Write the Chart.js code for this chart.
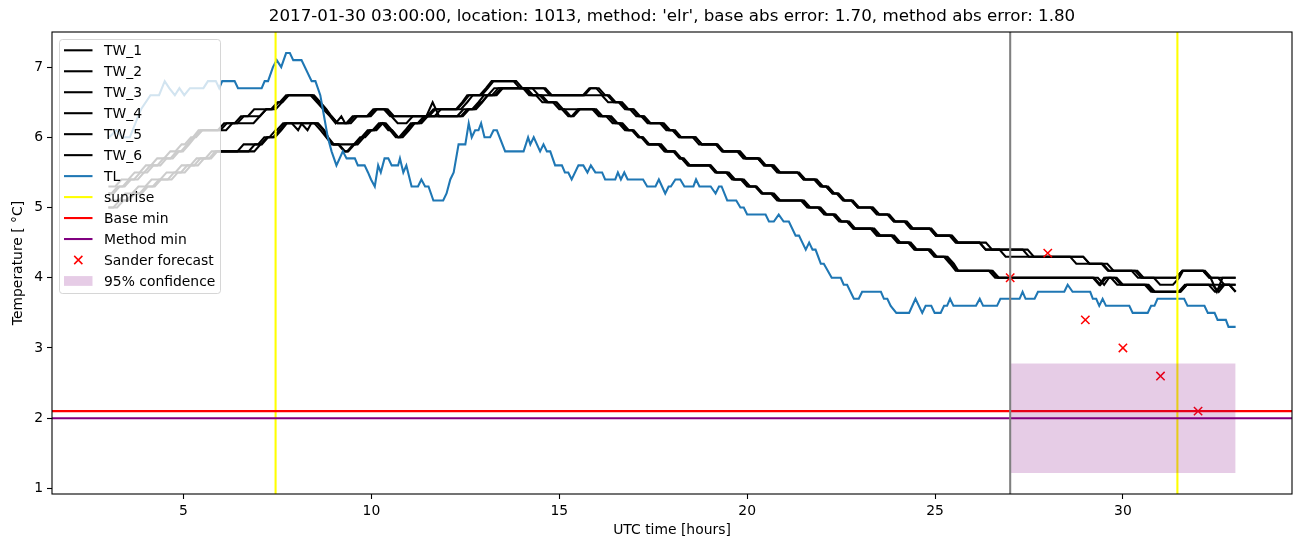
<!DOCTYPE html>
<html>
<head>
<meta charset="utf-8">
<script src="https://cdn.jsdelivr.net/npm/chart.js@4.4.1/dist/chart.umd.min.js"></script>
<style>
    html, body { margin: 0; padding: 0; background: #fff; }
    #chartTemp { display: block; }
</style>
</head>
<body>
<canvas id="chartTemp" width="1302" height="547"></canvas>
<script>
const xTicks = [5, 10, 15, 20, 25, 30];
const yTicks = [1, 2, 3, 4, 5, 6, 7];
const xRange = [1.5, 34.5];
const yRange = [0.92, 7.5];

// TL corners [hour, temp]
const tl = [[3.02,6.0],[3.22,6.1],[3.37,6.0],[3.57,6.0],[3.87,6.4],[4.12,6.6],[4.35,6.6],[4.5,6.8],[4.62,6.7],[4.77,6.6],[4.89,6.7],[5.02,6.6],[5.17,6.7],[5.53,6.7],[5.65,6.8],[5.86,6.8],[5.95,6.7],[6.03,6.8],[6.36,6.8],[6.45,6.7],[7.08,6.7],[7.16,6.8],[7.25,6.8],[7.38,7.0],[7.48,7.1],[7.6,7.0],[7.73,7.2],[7.83,7.2],[7.92,7.1],[8.14,7.1],[8.41,6.8],[8.51,6.8],[8.64,6.6],[8.74,6.3],[8.84,6.0],[8.94,5.8],[9.07,5.6],[9.24,5.8],[9.34,5.7],[9.56,5.7],[9.64,5.6],[9.82,5.6],[9.91,5.5],[9.99,5.4],[10.09,5.3],[10.18,5.6],[10.25,5.5],[10.35,5.7],[10.45,5.7],[10.54,5.6],[10.71,5.6],[10.76,5.7],[10.85,5.5],[10.93,5.6],[11.07,5.3],[11.24,5.3],[11.33,5.4],[11.43,5.3],[11.52,5.3],[11.65,5.1],[11.91,5.1],[12.0,5.2],[12.1,5.4],[12.19,5.5],[12.32,5.9],[12.5,5.9],[12.59,6.2],[12.67,6.0],[12.76,6.1],[12.85,6.1],[12.92,6.2],[13.01,6.0],[13.16,6.0],[13.25,6.1],[13.34,6.1],[13.56,5.8],[14.05,5.8],[14.17,6.0],[14.23,5.9],[14.32,6.0],[14.49,5.8],[14.58,5.9],[14.67,5.8],[14.76,5.8],[14.89,5.6],[15.07,5.6],[15.15,5.5],[15.24,5.5],[15.33,5.4],[15.51,5.6],[15.64,5.6],[15.75,5.5],[15.84,5.6],[15.96,5.5],[16.14,5.5],[16.22,5.4],[16.49,5.4],[16.56,5.5],[16.64,5.4],[16.73,5.5],[16.82,5.4],[17.23,5.4],[17.34,5.3],[17.56,5.3],[17.65,5.4],[17.82,5.2],[17.91,5.3],[17.97,5.3],[18.09,5.4],[18.22,5.4],[18.33,5.3],[18.57,5.3],[18.64,5.4],[18.73,5.3],[19.03,5.3],[19.16,5.2],[19.25,5.3],[19.32,5.3],[19.47,5.1],[19.71,5.1],[19.82,5.0],[19.91,5.0],[20.0,4.9],[20.49,4.9],[20.58,4.8],[20.71,4.8],[20.84,4.9],[20.97,4.8],[21.11,4.8],[21.29,4.6],[21.38,4.6],[21.47,4.5],[21.56,4.4],[21.65,4.5],[21.74,4.4],[21.82,4.4],[21.96,4.2],[22.04,4.2],[22.25,4.0],[22.49,4.0],[22.57,3.9],[22.66,3.9],[22.84,3.7],[22.97,3.7],[23.06,3.8],[23.56,3.8],[23.64,3.7],[23.73,3.7],[23.82,3.6],[23.97,3.5],[24.31,3.5],[24.48,3.7],[24.66,3.5],[24.75,3.6],[24.9,3.6],[24.99,3.5],[25.15,3.5],[25.24,3.6],[25.32,3.6],[25.4,3.7],[25.49,3.6],[26.09,3.6],[26.19,3.7],[26.28,3.6],[26.65,3.6],[26.74,3.7],[27.25,3.7],[27.33,3.8],[27.41,3.7],[27.65,3.7],[27.74,3.8],[28.44,3.8],[28.53,3.9],[28.66,3.8],[29.13,3.8],[29.2,3.7],[29.29,3.7],[29.37,3.6],[29.46,3.7],[29.55,3.6],[30.17,3.6],[30.26,3.5],[30.66,3.5],[30.75,3.6],[30.84,3.6],[30.92,3.7],[31.63,3.7],[31.72,3.6],[32.17,3.6],[32.26,3.5],[32.44,3.5],[32.52,3.4],[32.74,3.4],[32.81,3.3],[33.0,3.3]];

// TW steps [hour the new level is reached, temp]
const tw1 = [[3.0,5.2],[3.25,5.3],[3.55,5.4],[3.85,5.5],[4.12,5.6],[4.47,5.7],[4.82,5.8],[5.1,5.9],[5.25,6.0],[5.4,6.1],[6.08,6.2],[6.53,6.3],[6.88,6.4],[7.53,6.5],[7.73,6.6],[8.64,6.5],[8.8,6.4],[8.94,6.3],[9.1,6.2],[9.5,6.3],[10.05,6.4],[10.6,6.3],[11.7,6.4],[12.42,6.5],[12.55,6.6],[13.05,6.7],[13.2,6.8],[14.02,6.7],[14.8,6.6],[15.84,6.7],[16.22,6.6],[16.45,6.5],[16.84,6.4],[17.12,6.3],[17.43,6.2],[17.91,6.1],[18.18,6.0],[18.79,5.9],[19.38,5.8],[19.95,5.7],[20.45,5.6],[20.84,5.5],[21.5,5.4],[21.99,5.3],[22.27,5.2],[22.58,5.1],[22.94,5.0],[23.5,4.9],[23.91,4.8],[24.39,4.7],[25.02,4.6],[25.59,4.5],[26.52,4.4],[27.63,4.3],[28.76,4.2],[29.63,4.1],[30.49,4.0],[30.99,3.9],[31.5,4.0],[31.6,4.1],[32.35,4.0],[33.0,4.0]];
const tw2 = [[3.0,5.3],[3.35,5.4],[3.7,5.5],[4.0,5.6],[4.3,5.7],[4.65,5.8],[4.95,5.9],[5.2,6.0],[5.5,6.1],[6.3,6.2],[7.03,6.3],[7.2,6.4],[7.62,6.5],[7.8,6.6],[8.55,6.5],[8.72,6.4],[8.9,6.3],[9.05,6.2],[9.2,6.3],[9.3,6.2],[9.62,6.3],[10.15,6.4],[10.5,6.3],[10.7,6.2],[11.1,6.3],[11.85,6.4],[12.55,6.5],[12.7,6.6],[13.27,6.7],[14.45,6.6],[16.3,6.5],[16.75,6.4],[17.05,6.3],[17.35,6.2],[17.85,6.1],[18.25,6.0],[18.72,5.9],[19.33,5.8],[19.9,5.7],[20.5,5.6],[20.8,5.5],[21.55,5.4],[21.95,5.3],[22.32,5.2],[22.55,5.1],[22.98,5.0],[23.45,4.9],[23.95,4.8],[24.35,4.7],[25.07,4.6],[25.55,4.5],[26.35,4.4],[26.88,4.3],[29.11,4.2],[29.75,4.1],[30.55,4.0],[31.58,4.1],[32.3,4.0],[32.7,3.9],[33.0,3.9]];
const tw3 = [[3.0,5.2],[3.3,5.3],[3.6,5.4],[3.95,5.5],[4.2,5.6],[4.55,5.7],[4.88,5.8],[5.15,5.9],[5.3,6.0],[5.45,6.1],[6.15,6.2],[6.6,6.3],[7.2,6.4],[7.5,6.5],[7.78,6.6],[8.6,6.5],[8.78,6.4],[8.92,6.3],[9.1,6.2],[9.55,6.3],[10.1,6.4],[10.55,6.3],[11.65,6.4],[12.45,6.5],[12.6,6.6],[13.1,6.7],[13.25,6.8],[13.95,6.7],[14.75,6.6],[15.8,6.7],[16.15,6.6],[16.5,6.5],[16.8,6.4],[17.15,6.3],[17.4,6.2],[17.95,6.1],[18.2,6.0],[18.8,5.9],[19.35,5.8],[19.98,5.7],[20.45,5.6],[20.88,5.5],[21.5,5.4],[22.02,5.3],[22.27,5.2],[22.6,5.1],[22.94,5.0],[23.52,4.9],[23.9,4.8],[24.42,4.7],[25.02,4.6],[25.62,4.5],[26.35,4.4],[27.5,4.3],[29.11,4.2],[29.6,4.1],[30.4,4.0],[31.58,4.1],[32.3,4.0],[32.5,3.8],[32.65,4.0],[33.0,4.0]];
const tw4 = [[3.0,5.0],[3.4,5.1],[3.7,5.2],[4.05,5.3],[4.4,5.4],[4.85,5.5],[5.2,5.6],[5.55,5.7],[5.9,5.8],[6.9,5.9],[7.22,6.0],[7.55,6.1],[7.7,6.2],[8.72,6.1],[8.82,6.0],[8.98,5.9],[9.28,5.8],[9.52,5.9],[9.74,6.0],[9.95,6.1],[10.25,6.2],[10.55,6.1],[10.7,6.0],[10.95,6.1],[11.1,6.2],[11.45,6.3],[11.63,6.5],[11.8,6.3],[12.6,6.4],[12.95,6.5],[13.1,6.6],[13.45,6.7],[14.25,6.6],[14.65,6.5],[15.07,6.4],[15.24,6.3],[15.5,6.4],[16.1,6.3],[16.49,6.2],[16.8,6.1],[17.12,6.0],[17.38,5.9],[17.83,5.8],[18.22,5.7],[18.44,5.6],[19.18,5.5],[19.64,5.4],[20.04,5.3],[20.4,5.2],[20.84,5.1],[21.64,5.0],[22.09,4.9],[22.49,4.8],[22.84,4.7],[23.5,4.6],[24.03,4.5],[24.48,4.4],[25.02,4.3],[25.45,4.2],[25.6,4.1],[26.66,4.0],[29.5,3.9],[29.63,4.0],[29.85,3.9],[30.8,3.8],[31.7,3.9],[32.55,3.8],[32.7,3.9],[33.0,3.8]];
const tw5 = [[3.0,5.1],[3.45,5.2],[3.8,5.3],[4.15,5.4],[4.55,5.5],[4.95,5.6],[5.35,5.7],[5.75,5.8],[6.6,5.9],[7.15,6.0],[7.45,6.1],[7.65,6.2],[8.05,6.1],[8.15,6.2],[8.65,6.1],[8.8,6.0],[8.95,5.9],[9.7,6.0],[9.9,6.1],[10.2,6.2],[10.5,6.1],[10.65,6.0],[10.9,6.1],[11.05,6.2],[11.4,6.3],[12.45,6.4],[12.85,6.5],[13.0,6.6],[13.38,6.7],[14.2,6.6],[14.55,6.5],[15.0,6.4],[16.05,6.3],[16.42,6.2],[16.75,6.1],[17.1,6.0],[17.35,5.9],[17.8,5.8],[18.2,5.7],[18.42,5.6],[19.15,5.5],[19.6,5.4],[20.0,5.3],[20.38,5.2],[20.8,5.1],[21.6,5.0],[22.05,4.9],[22.45,4.8],[22.82,4.7],[23.45,4.6],[24.0,4.5],[24.45,4.4],[24.98,4.3],[25.4,4.2],[25.55,4.1],[26.6,4.0],[29.37,3.9],[29.5,4.0],[29.95,3.9],[30.75,3.8],[31.65,3.9],[33.0,3.9]];
const tw6 = [[3.0,5.0],[3.3,5.1],[3.65,5.2],[4.0,5.3],[4.35,5.4],[4.75,5.5],[5.1,5.6],[5.45,5.7],[5.85,5.8],[7.05,5.9],[7.25,6.0],[7.6,6.1],[7.75,6.2],[8.3,6.1],[8.4,6.2],[8.75,6.1],[8.85,6.0],[9.0,5.9],[9.3,5.8],[9.55,5.9],[9.8,6.0],[10.0,6.1],[10.3,6.2],[10.45,6.1],[10.72,6.0],[11.0,6.1],[11.15,6.2],[11.5,6.3],[12.55,6.4],[12.9,6.5],[13.1,6.6],[13.5,6.7],[14.3,6.6],[14.7,6.5],[15.1,6.4],[15.3,6.3],[15.55,6.4],[16.15,6.3],[16.55,6.2],[16.85,6.1],[17.15,6.0],[17.4,5.9],[17.88,5.8],[18.25,5.7],[18.48,5.6],[19.2,5.5],[19.68,5.4],[20.08,5.3],[20.42,5.2],[20.88,5.1],[21.68,5.0],[22.12,4.9],[22.52,4.8],[22.88,4.7],[23.55,4.6],[24.08,4.5],[24.52,4.4],[25.05,4.3],[25.5,4.2],[25.62,4.1],[26.7,4.0],[29.4,3.9],[29.55,4.0],[30.0,3.9],[30.85,3.8],[31.7,3.9],[32.45,3.8],[32.65,3.9],[33.0,3.8]];

const sunrise = [7.45, 31.45];
const forecastStart = 27;
const baseMin = 2.1;
const methodMin = 2.0;
const forecastX = [27, 28, 29, 30, 31, 32];
const forecastY = [4.0, 4.35, 3.4, 3.0, 2.6, 2.1];
const confX = [27, 33];
const confLow = [1.22, 1.22];
const confHigh = [2.78, 2.78];

const FONT = '"DejaVu Sans", "Liberation Sans", sans-serif';
const LW = 2.08;

function cornerPoints(list) {
    return list.map(p => ({x: p[0], y: p[1]}));
}

// each step ramps over the 10 minutes before the listed time
function stepPoints(steps) {
    const pts = [];
    steps.forEach(function (s, i) {
        if (i > 0) {
            const hold = Math.max(steps[i - 1][0], s[0] - 1 / 6);
            pts.push({x: hold, y: steps[i - 1][1]});
        }
        pts.push({x: s[0], y: s[1]});
    });
    return pts;
}

function vLines(xs) {
    const pts = [];
    xs.forEach(function (x) {
        pts.push({x: x, y: yRange[0]}, {x: x, y: yRange[1]}, {x: x, y: null});
    });
    return pts;
}

function hLine(y) {
    return [{x: xRange[0], y: y}, {x: xRange[1], y: y}];
}

function lineSet(label, data, color, legend) {
    return {
        label: label,
        data: data,
        borderColor: color,
        backgroundColor: color,
        borderWidth: LW,
        pointRadius: 0,
        fill: false,
        tension: 0,
        spanGaps: false,
        legendKind: legend
    };
}

const datasets = [
    lineSet('TW_1', stepPoints(tw1), '#000000', 'line'),
    lineSet('TW_2', stepPoints(tw2), '#000000', 'line'),
    lineSet('TW_3', stepPoints(tw3), '#000000', 'line'),
    lineSet('TW_4', stepPoints(tw4), '#000000', 'line'),
    lineSet('TW_5', stepPoints(tw5), '#000000', 'line'),
    lineSet('TW_6', stepPoints(tw6), '#000000', 'line'),
    lineSet('TL', cornerPoints(tl), '#1f77b4', 'line'),
    lineSet('sunrise', vLines(sunrise), '#ffff00', 'line'),
    lineSet('Base min', hLine(baseMin), '#ff0000', 'line'),
    lineSet('Method min', hLine(methodMin), '#800080', 'line'),
    {
        label: 'Sander forecast',
        data: forecastX.map((x, i) => ({x: x, y: forecastY[i]})),
        showLine: false,
        pointStyle: 'crossRot',
        pointRadius: 5.9,
        pointBorderWidth: 1.5,
        pointBorderColor: '#ff0000',
        pointBackgroundColor: '#ff0000',
        borderColor: '#ff0000',
        legendKind: 'cross'
    },
    {
        label: '95% confidence',
        data: confX.map((x, i) => ({x: x, y: confHigh[i]})),
        borderWidth: 0,
        pointRadius: 0,
        borderColor: 'rgba(0,0,0,0)',
        backgroundColor: 'rgba(128,0,128,0.2)',
        fill: '+1',
        legendKind: 'patch'
    },
    {
        label: '',
        data: confX.map((x, i) => ({x: x, y: confLow[i]})),
        borderWidth: 0,
        pointRadius: 0,
        borderColor: 'rgba(0,0,0,0)',
        fill: false
    },
    lineSet('', vLines([forecastStart]), '#808080', null)
];
// later datasets on top, like matplotlib
datasets.forEach((d, i) => { d.order = 100 - i; });

const decorations = {
    id: 'decorations',
    afterDatasetsDraw(chart) {
        const ctx = chart.ctx;
        const a = chart.chartArea;
        ctx.save();
        ctx.strokeStyle = '#000';
        ctx.lineWidth = 1.1;
        ctx.strokeRect(a.left, a.top, a.right - a.left, a.bottom - a.top);

        // legend box, upper left inside the axes
        const bx = 59.5, by = 39.5, bw = 161, bh = 254, r = 3;
        ctx.beginPath();
        ctx.moveTo(bx + r, by);
        ctx.arcTo(bx + bw, by, bx + bw, by + bh, r);
        ctx.arcTo(bx + bw, by + bh, bx, by + bh, r);
        ctx.arcTo(bx, by + bh, bx, by, r);
        ctx.arcTo(bx, by, bx + bw, by, r);
        ctx.closePath();
        ctx.fillStyle = 'rgba(255,255,255,0.8)';
        ctx.fill();
        ctx.strokeStyle = 'rgba(204,204,204,0.8)';
        ctx.lineWidth = 1;
        ctx.stroke();

        const items = chart.data.datasets.filter(d => d.label);
        ctx.font = '13.9px ' + FONT;
        ctx.textBaseline = 'middle';
        ctx.textAlign = 'left';
        items.forEach(function (d, i) {
            const yc = 50.3 + i * 20.97;
            if (d.legendKind === 'line') {
                ctx.strokeStyle = d.borderColor;
                ctx.lineWidth = LW;
                ctx.beginPath();
                ctx.moveTo(64, yc);
                ctx.lineTo(92.5, yc);
                ctx.stroke();
            } else if (d.legendKind === 'cross') {
                ctx.strokeStyle = '#ff0000';
                ctx.lineWidth = 1.5;
                ctx.beginPath();
                ctx.moveTo(74.2, yc - 4.1);
                ctx.lineTo(82.4, yc + 4.1);
                ctx.moveTo(82.4, yc - 4.1);
                ctx.lineTo(74.2, yc + 4.1);
                ctx.stroke();
            } else if (d.legendKind === 'patch') {
                ctx.fillStyle = 'rgba(128,0,128,0.2)';
                ctx.fillRect(64, yc - 4.9, 28.5, 9.8);
            }
            ctx.fillStyle = '#000';
            ctx.fillText(d.label, 104, yc + 1);
        });

        // titles
        ctx.fillStyle = '#000';
        ctx.textAlign = 'center';
        ctx.font = '16.7px ' + FONT;
        ctx.fillText("2017-01-30 03:00:00, location: 1013, method: 'elr', base abs error: 1.70, method abs error: 1.80",
            (a.left + a.right) / 2, 17);
        ctx.font = '13.9px ' + FONT;
        ctx.fillText('UTC time [hours]', (a.left + a.right) / 2, 530);
        ctx.translate(18, (a.top + a.bottom) / 2);
        ctx.rotate(-Math.PI / 2);
        ctx.fillText('Temperature [ \u00B0C]', 0, 0);
        ctx.restore();
    }
};

const axisCommon = {
    type: 'linear',
    border: {display: false},
    grid: {drawOnChartArea: false, drawTicks: true, tickLength: 5, tickColor: '#000', tickWidth: 1.1},
    ticks: {color: '#000', padding: 4, maxRotation: 0, autoSkip: false, font: {family: FONT, size: 13.9}}
};

const config = {
    type: 'line',
    data: {datasets: datasets},
    options: {
        responsive: false,
        animation: false,
        events: [],
        layout: {padding: {left: 0, right: 10, top: 32, bottom: 0}},
        plugins: {
            legend: {display: false},
            title: {display: false},
            tooltip: {enabled: false}
        },
        scales: {
            x: Object.assign({}, axisCommon, {
                min: xRange[0],
                max: xRange[1],
                afterBuildTicks(s) { s.ticks = xTicks.map(v => ({value: v})); },
                afterFit(s) { s.height = 53; }
            }),
            y: Object.assign({}, axisCommon, {
                min: yRange[0],
                max: yRange[1],
                afterBuildTicks(s) { s.ticks = yTicks.map(v => ({value: v})); },
                afterFit(s) { s.width = 52; }
            })
        }
    },
    plugins: [decorations]
};

var myChart = new Chart(document.getElementById('chartTemp'), config);
</script>
</body>
</html>
